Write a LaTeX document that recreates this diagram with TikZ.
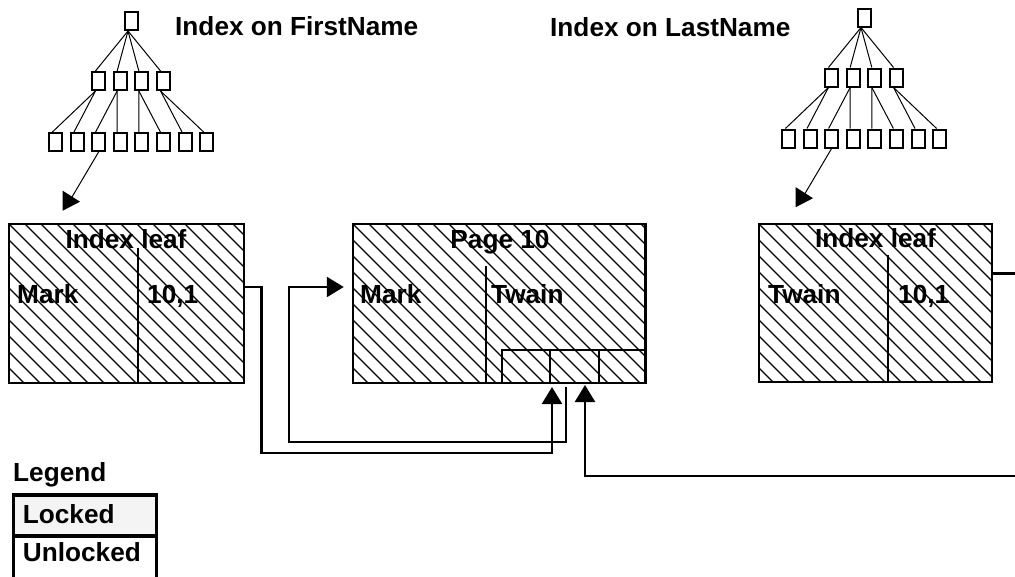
\documentclass[tikz,border=0pt]{standalone}
\usepackage{fontspec}
\setmainfont{Liberation Sans}
\usetikzlibrary{arrows.meta,fit}

\definecolor{lockgray}{HTML}{F4F4F4}

\tikzset{
  lbl/.style={font=\fontsize{26.2}{30}\selectfont\bfseries, inner sep=0pt, anchor=base west},
  lblc/.style={lbl, anchor=base},
  tbox/.style={draw, line width=2pt, minimum width=13pt, minimum height=18pt, inner sep=0pt},
  tedge/.style={line width=1pt},
  bigbox/.style={draw, line width=2.5pt, inner sep=0pt},
  part/.style={draw, line width=2pt, inner sep=0pt},
  divider/.style={line width=2pt},
  hatch/.style={line width=1.1pt},
  conn/.style={line width=2.5pt},
  tip/.style={-{Triangle[length=17pt,width=20pt]}},
  legendbox/.style={draw, line width=3.3pt, inner sep=0pt},
}

% diagonal hatching inside the rectangle (#1,#2)-(#3,#4)
\newcommand\hatchfill[4]{%
  \begin{scope}
    \clip (#1,#2) rectangle (#3,#4);
    \foreach \k in {-176,-160,...,320}
      \draw[hatch] ({#1+\k},#2) -- ++(200,200);
  \end{scope}}

% a small B-tree: root, 4 inner nodes, 8 leaves, and a pointer out of leaf 3
\newcommand\btree[3]{%
  \begin{scope}[shift={(#2,#3)}]
    \node[tbox] (#1r) at (131,21) {};
    \foreach \i in {1,...,4}
      \node[tbox] (#1m\i) at ({131+(\i-2.5)*21.7},81) {};
    \foreach \j in {1,...,8}
      \node[tbox] (#1b\j) at ({131+(\j-4.5)*21.6},142) {};
    \foreach \i in {1,...,4}
      \draw[tedge] ([xshift=-3pt]#1r.south) -- ([xshift=-3pt]#1m\i.north);
    \foreach \i/\j in {1/1,1/2,2/3,2/4,3/5,3/6,4/7,4/8}
      \draw[tedge] ([xshift=-3pt]#1m\i.south) -- ([xshift=-3pt]#1b\j.north);
    \coordinate (#1end) at (72,197);
    \draw[tedge] (#1b3.south) -- (#1end);
    \fill (62.7,190.7) -- (62.7,210.7) -- (80,201.7) -- cycle;
  \end{scope}}

\begin{document}
\begin{tikzpicture}[x=1pt,y=-1pt]
  \useasboundingbox (0,0) rectangle (1015,576);
  \clip (0,0) rectangle (1015,576);

  % titles
  \node[lbl] (t1) at (175,35) {Index on FirstName};
  \node[lbl] (t2) at (550,36.5) {Index on LastName};

  % the two index trees
  \btree{F}{0}{0}
  \btree{L}{733}{-3.5}

  % left index leaf
  \hatchfill{9}{224}{244}{383}
  \node[bigbox, fit={(9,224) (244,383)}] (leafL) {};
  \draw[divider] (138,248) -- (138,383);
  \node[lblc] (hL) at (126,248) {Index leaf};
  \node[lbl] (mL) at (17,303) {Mark};
  \node[lbl] (vL) at (147,303) {10,1};

  % data page
  \hatchfill{353}{224}{645.5}{383}
  \node[bigbox, fit={(353,224) (645.5,383)}] (page) {};
  \draw[divider] (485.7,266) -- (485.7,383);
  \node[part, fit={(501.7,350) (550,383)}] (cellA) {};
  \node[part, fit={(550,350) (599.3,383)}] (cellB) {};
  \node[part, fit={(599.3,350) (645.5,383)}] (cellC) {};
  \node[lblc] (hP) at (500,248) {Page 10};
  \node[lbl] (mP) at (360,303.5) {Mark};
  \node[lbl] (tP) at (491,303.5) {Twain};

  % right index leaf
  \hatchfill{759}{224}{992}{382}
  \node[bigbox, fit={(759,224) (992,382)}] (leafR) {};
  \draw[divider] (888,255) -- (888,382);
  \node[lblc] (hR) at (875.5,247) {Index leaf};
  \node[lbl] (tR) at (768,303) {Twain};
  \node[lbl] (vR) at (898,303) {10,1};

  % pointers
  \draw[conn, tip] ([yshift=16.5pt]leafL.east) -- ++(16,0) -- ++(0,166)
    -| ([xshift=3pt,yshift=-3pt]cellB.south west);
  \draw[conn, tip] ([xshift=17pt,yshift=-3pt]cellB.south west) -- ++(0,55)
    -- ++(-277,0) |- ([xshift=-8pt,yshift=16.5pt]page.west);
  \draw[conn, tip] ([yshift=29.5pt]leafR.east) -- ++(40,0) -- ++(0,202.5)
    -| ([xshift=36pt,yshift=-1pt]cellB.south west);

  % legend
  \node[lbl] (lg) at (13,481.7) {Legend};
  \node[legendbox, fill=lockgray, fit={(13.3,495) (156.7,536)}] (locked) {};
  \node[legendbox, fit={(13.3,536) (156.7,590)}] (unlocked) {};
  \node[lbl] (lk) at (22.7,523.3) {Locked};
  \node[lbl] (ul) at (22.7,561.7) {Unlocked};
\end{tikzpicture}
\end{document}
